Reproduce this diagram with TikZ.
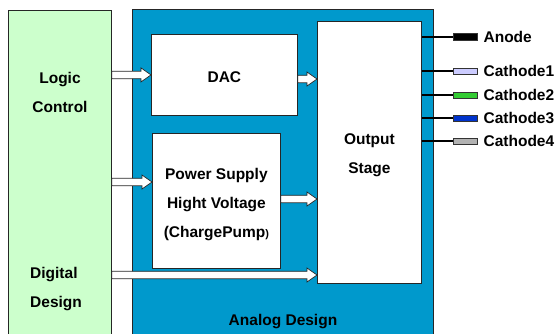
\documentclass[tikz,border=0pt]{standalone}
\usepackage{fontspec}
\setmainfont{Liberation Sans}
\usepackage{xcolor}
\definecolor{logicgreen}{HTML}{CCFFCC}
\definecolor{analogblue}{HTML}{0099CC}
\definecolor{cathone}{HTML}{CCCCFF}
\definecolor{cathtwo}{HTML}{33CC33}
\definecolor{caththree}{HTML}{0033CC}
\definecolor{cathfour}{HTML}{B2B2B2}
\usepackage{tikz}
\usetikzlibrary{
  positioning,
  calc,
}

\begin{document}
\begin{tikzpicture}[
  x=1pt, y=-1pt,
  area/.style={
    draw=black!85,
    line width=0.8pt,
    anchor=north west,
    inner sep=0pt,
  },
  block/.style={
    draw=black!85,
    line width=0.8pt,
    fill=white,
    anchor=north west,
    inner sep=0pt,
  },
  txt/.style={
    font=\bfseries\fontsize{15.5}{29}\selectfont,
    align=center,
    inner sep=0pt,
  },
  hollow/.style={
    draw=black!85,
    line width=0.7pt,
    fill=white,
    to path={
      let \p1=(\tikztostart), \p2=(\tikztotarget) in
      (\x1,\y1+3.75pt) -- (\x2-10pt,\y1+3.75pt) -- (\x2-10pt,\y1+7pt)
      -- (\x2,\y1) -- (\x2-10pt,\y1-7pt) -- (\x2-10pt,\y1-3.75pt)
      -- (\x1,\y1-3.75pt) -- cycle
    },
  },
  pinbox/.style={
    draw=black!80,
    line width=0.8pt,
    minimum width=24pt,
    minimum height=6pt,
    inner sep=0pt,
  },
  pinwire/.style={
    line width=2pt,
    draw=black,
  },
  pinlbl/.style={
    font=\bfseries\fontsize{15.5}{18}\selectfont,
    inner sep=0pt,
  },
]

\useasboundingbox (0,0) rectangle (558,333);
\clip (0,0) rectangle (558,333);

% =============================================================================
% Digital side and analog frame
% =============================================================================
\node[area, fill=logicgreen, minimum width=103pt, minimum height=340pt]
  (logic) at (8,10) {};
\node[area, fill=analogblue, line width=1pt, minimum width=301pt,
  minimum height=340pt] (analog) at (132,9) {};

\node[txt] (logiclbl) at (60,92.5) {Logic\\Control};
\node[txt, align=left, anchor=west] (digitallbl) at (30,289) {Digital\\Design};
\node[txt] (analoglbl) at (283,321.5) {Analog Design};

% =============================================================================
% Analog blocks
% =============================================================================
\node[block, minimum width=146pt, minimum height=81pt] (dac) at (151,34) {};
\node[block, minimum width=128pt, minimum height=135pt] (power) at (152,133) {};
\node[block, minimum width=104pt, minimum height=262pt] (outstage) at (317,21) {};

\node[txt] (daclbl) at ($(dac.center)+(0,2.5)$) {DAC};
\node[txt] (powerlbl) at ($(power.center)+(0,3.5)$) {%
  Power Supply\\Hight Voltage\\(ChargePump{\fontsize{11}{11}\selectfont)}};
\node[txt] (outlbl) at ($(outstage.center)+(0,3)$) {Output\\Stage};

% hollow arrows into the blocks
\draw[hollow] (logic.east |- dac.west) to (dac.west);
\draw[hollow] (logic.east |- 0,182) to (power.west |- 0,182);
\draw[hollow] (dac.east |- 0,79) to (outstage.west |- 0,79);
\draw[hollow] (power.east |- 0,199) to (outstage.west |- 0,199);
\draw[hollow] (logic.east |- 0,275) to (outstage.west |- 0,275);

% =============================================================================
% Output pins
% =============================================================================
\node[pinbox, fill=black, minimum height=7pt] (anode) at (465,37) {};
\node[pinbox, fill=cathone] (cathodeA) at (465,71) {};
\node[pinbox, fill=cathtwo] (cathodeB) at (465,95) {};
\node[pinbox, fill=caththree] (cathodeC) at (465,118) {};
\node[pinbox, fill=cathfour] (cathodeD) at (465,141) {};

\foreach \p in {anode,cathodeA,cathodeB,cathodeC,cathodeD}
  \draw[pinwire] (outstage.east |- \p.west) -- (\p.west);

\node[pinlbl, right=6pt of anode] {Anode};
\node[pinlbl, right=6pt of cathodeA] {Cathode1};
\node[pinlbl, right=6pt of cathodeB] {Cathode2};
\node[pinlbl, right=6pt of cathodeC] {Cathode3};
\node[pinlbl, right=6pt of cathodeD] {Cathode4};

\end{tikzpicture}
\end{document}
